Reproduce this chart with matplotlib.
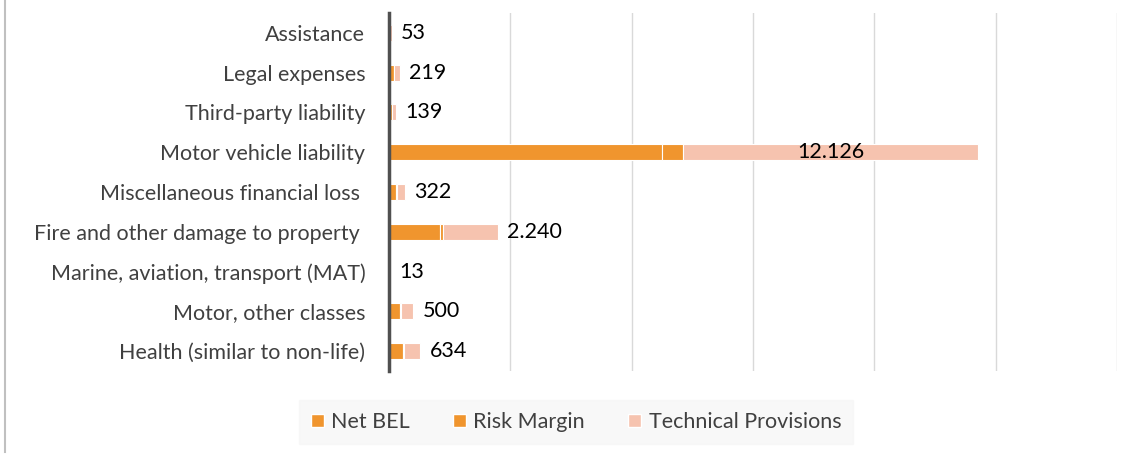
import numpy as np
import matplotlib.pyplot as plt
from matplotlib.patches import Patch
from matplotlib.lines import Line2D

plt.rcParams['font.family'] = ['Lato', 'DejaVu Sans']

# data (top to bottom as shown)
categories = ['Assistance', 'Legal expenses', 'Third-party liability', 'Motor vehicle liability',
              'Miscellaneous financial loss ', 'Fire and other damage to property ',
              'Marine, aviation, transport (MAT)', 'Motor, other classes', 'Health (similar to non-life)']
net_bel = [45, 190, 120, 11235, 280, 2100, 11, 440, 560]
risk_margin = [8, 29, 19, 891, 42, 140, 2, 60, 74]
tech_prov = [53, 219, 139, 12126, 322, 2240, 13, 500, 634]
tp_labels = ['53', '219', '139', '12.126', '322', '2.240', '13', '500', '634']

c_bel = '#F0952E'
c_rm = '#F0952E'
c_tp = '#F6C3AF'

fig = plt.figure(figsize=(11.35, 4.54), dpi=100)
ax = fig.add_axes([389/1135, 1-371/454, (1117-389)/1135, (371-13)/454])

y = np.arange(len(categories))
net_bel = np.array(net_bel)
risk_margin = np.array(risk_margin)
tech_prov = np.array(tech_prov)

ax.barh(y, net_bel, height=0.4, color=c_bel, edgecolor='white', linewidth=0.8, zorder=3)
ax.barh(y, risk_margin, left=net_bel, height=0.4, color=c_rm, edgecolor='white', linewidth=0.8, zorder=3)
ax.barh(y, tech_prov, left=net_bel + risk_margin, height=0.4, color=c_tp, edgecolor='white', linewidth=0.8, zorder=3)

# value labels
for i in range(len(categories)):
    end = net_bel[i] + risk_margin[i] + tech_prov[i]
    if tech_prov[i] > 5000:
        ax.text(net_bel[i] + risk_margin[i] + tech_prov[i] / 2, y[i], tp_labels[i],
                ha='center', va='center', fontsize=15.5, color='black', zorder=4)
    else:
        ax.text(end + 400, y[i], tp_labels[i], ha='left', va='center',
                fontsize=15.5, color='black', zorder=4)

ax.set_xlim(0, 30000)
ax.set_ylim(len(categories) - 0.5, -0.5)
ax.set_yticks(y)
ax.set_yticklabels(categories, fontsize=15.5, color='#404040')
ax.set_xticks(np.arange(0, 30001, 5000))
ax.set_xticklabels([])
ax.tick_params(axis='both', length=0, pad=17)
ax.grid(axis='x', color='#D9D9D9', linewidth=1, zorder=0)
for s in ['top', 'right', 'bottom']:
    ax.spines[s].set_visible(False)
ax.spines['left'].set_color('#505050')
ax.spines['left'].set_linewidth(2.5)
ax.spines['left'].set_zorder(5)

handles = [Patch(facecolor=c_bel, edgecolor='white'),
           Patch(facecolor=c_rm, edgecolor='white'),
           Patch(facecolor=c_tp, edgecolor='white')]
leg = fig.legend(handles, ['Net BEL', 'Risk Margin', 'Technical Provisions'],
                 loc='center', bbox_to_anchor=(576/1135, 1-422/454), ncol=3,
                 fontsize=15.5, frameon=True, fancybox=False, handlelength=0.6, handleheight=0.6,
                 handletextpad=0.35, columnspacing=2.0, borderpad=0.55, borderaxespad=0)
leg.get_frame().set_facecolor('#F7F7F7')
leg.get_frame().set_edgecolor('#F7F7F7')
for t in leg.get_texts():
    t.set_color('#404040')

# outer chart border on the left
fig.add_artist(Line2D([5/1135, 5/1135], [0.005, 1], color='#C0C0C0', linewidth=1.5))

fig.savefig('out.png', dpi=100)
